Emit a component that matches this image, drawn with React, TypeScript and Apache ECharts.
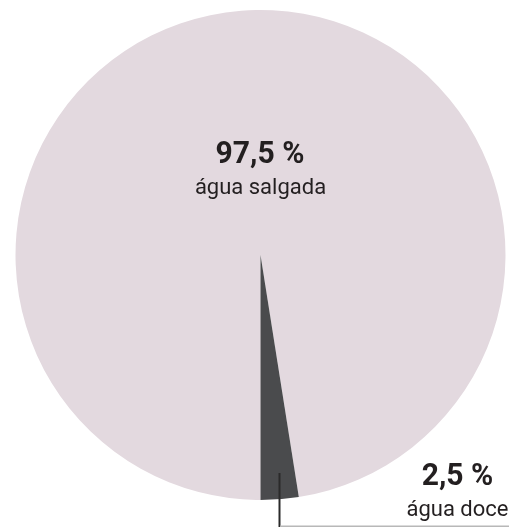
import React, { useEffect, useRef } from "react";
import * as echarts from "echarts";

const categories = ["água salgada", "água doce"];
const values = [97.5, 2.5];
const colors = ["#e3d9df", "#4a4b4d"];

const fmt = (v: number) => v.toFixed(1).replace(".", ",") + " %";

export default function App() {
  const ref = useRef<HTMLDivElement>(null);
  useEffect(() => {
    if (!ref.current) return;
    const chart = echarts.init(ref.current, undefined, { renderer: "svg" });
    chart.setOption({
      animation: false,
      series: [
        {
          type: "pie",
          center: [260.5, 255],
          radius: [0, 245],
          startAngle: -90,
          clockwise: true,
          silent: true,
          z: 1,
          label: { show: false },
          labelLine: { show: false },
          data: categories.map((c, i) => ({
            name: c,
            value: values[i],
            itemStyle: { color: colors[i] },
          })),
        },
      ],
      graphic: [
        {
          type: "text",
          z: 100,
          x: 260,
          y: 152,
          scaleX: 0.94,
          style: {
            text: fmt(values[0]),
            font: "bold 32px Roboto",
            fill: "#231f20",
            align: "center",
            verticalAlign: "middle",
          },
        },
        {
          type: "text",
          z: 100,
          x: 260.5,
          y: 186,
          style: {
            text: categories[0],
            font: "22px Roboto",
            fill: "#231f20",
            align: "center",
            verticalAlign: "middle",
          },
        },
        {
          type: "text",
          z: 100,
          x: 457.5,
          y: 474,
          scaleX: 0.94,
          style: {
            text: fmt(values[1]),
            font: "bold 32px Roboto",
            fill: "#231f20",
            align: "center",
            verticalAlign: "middle",
          },
        },
        {
          type: "text",
          z: 100,
          x: 457.5,
          y: 508,
          style: {
            text: categories[1],
            font: "22px Roboto",
            fill: "#231f20",
            align: "center",
            verticalAlign: "middle",
          },
        },
        {
          type: "line",
          z: 100,
          shape: { x1: 279.5, y1: 473, x2: 279.5, y2: 527 },
          style: { stroke: "#2a2a2a", lineWidth: 2 },
        },
        {
          type: "line",
          z: 100,
          shape: { x1: 280, y1: 526.25, x2: 509, y2: 526.25 },
          style: { stroke: "#b8b8b8", lineWidth: 1.5 },
        },
      ],
    });
    return () => chart.dispose();
  }, []);
  return (
    <div
      ref={ref}
      style={{ position: "fixed", left: 0, top: 0, width: 519, height: 527 }}
    />
  );
}
